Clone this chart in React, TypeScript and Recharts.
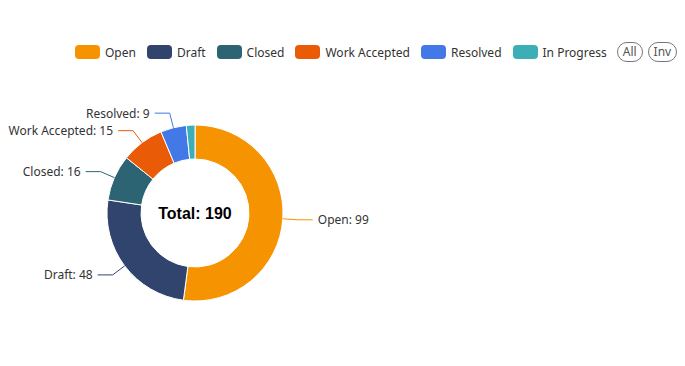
import React from "react"
import { PieChart, Pie, Cell } from "recharts"

const names = ["Open", "Draft", "Closed", "Work Accepted", "Resolved", "In Progress"]
const counts = [99, 48, 16, 15, 9, 3]
const colors = ["#f59300", "#30446d", "#2c6474", "#e95b06", "#4279e6", "#3caeb5"]

const data = names.map((name, i) => ({ name, value: counts[i] }))
const total = counts.reduce((a, b) => a + b, 0)

const FONT = "'Noto Sans', sans-serif"
const RAD = Math.PI / 180

const renderLabel = (props: any) => {
    const { cx, cy, midAngle, outerRadius, name, value, index } = props
    if (value / total < 0.02) return null
    const color = colors[index]
    const cos = Math.cos(-midAngle * RAD)
    const sin = Math.sin(-midAngle * RAD)
    const sx = cx + outerRadius * cos
    const sy = cy + outerRadius * sin
    const mx = cx + (outerRadius + 15) * cos
    const my = cy + (outerRadius + 15) * sin
    const dir = cos >= 0 ? 1 : -1
    const ex = mx + dir * 15
    return (
        <g>
            <path d={`M${sx},${sy}L${mx},${my}L${ex},${my}`} stroke={color} fill="none" strokeWidth={1} />
            <text x={ex + dir * 5} y={my} textAnchor={dir > 0 ? "start" : "end"} dominantBaseline="central"
                fontSize={12} fontFamily={FONT} fill="#333">
                {`${name}: ${value}`}
            </text>
        </g>
    )
}

const LegendBar = () => (
    <div style={{ position: "absolute", top: 42, left: 75, height: 20, display: "flex", alignItems: "center", fontFamily: FONT, fontSize: 12, color: "#333", gap: 11, whiteSpace: "nowrap" }}>
        {names.map((n, i) => (
            <div key={n} style={{ display: "flex", alignItems: "center" }}>
                <span style={{ width: 25, height: 14, borderRadius: 4, background: colors[i], marginRight: 5, display: "inline-block" }} />
                <span>{n}</span>
            </div>
        ))}
        {["All", "Inv"].map((t, i) => (
            <span key={t} style={{ border: "1px solid #777", borderRadius: 10, padding: "0 5px", height: 18, lineHeight: "18px", color: "#555", marginLeft: i === 0 ? -1 : -6 }}>{t}</span>
        ))}
    </div>
)

export default function App() {
    return (
        <div style={{ position: "relative", width: 685, height: 366, background: "#fff" }}>
            <style>{"body{margin:0}"}</style>
            <LegendBar />
            <PieChart width={685} height={366} margin={{ top: 0, right: 0, bottom: 0, left: 0 }}>
                <Pie data={data} dataKey="value" nameKey="name" cx={195} cy={213} innerRadius={54} outerRadius={88}
                    startAngle={90} endAngle={-270} stroke="#fff" strokeWidth={1} label={renderLabel} labelLine={false}
                    isAnimationActive={false}>
                    {data.map((d, i) => <Cell key={d.name} fill={colors[i]} />)}
                </Pie>
                <text x={195} y={213} textAnchor="middle" dominantBaseline="central" fontSize={16} fontWeight="bold"
                    fontFamily="'Liberation Sans', Arial, sans-serif" fill="#000">
                    {`Total: ${total}`}
                </text>
            </PieChart>
        </div>
    )
}
